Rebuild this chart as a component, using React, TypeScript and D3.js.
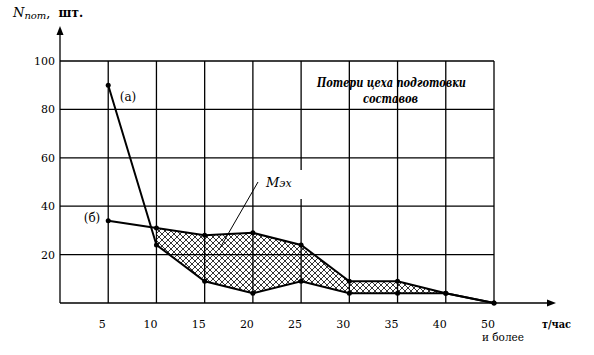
import React from "react";
import * as d3 from "d3";

const categories = ["5", "10", "15", "20", "25", "30", "35", "40", "50"];
const seriesA = [90, 24, 9, 4, 9, 4, 4, 4, 0];
const seriesB = [34, 31, 28, 29, 24, 9, 9, 4, 0];
const yTicks = [20, 40, 60, 80, 100];
const hatchFrom = 1;
const hatchTo = 7;

const font = "'DejaVu Serif', serif";

export default function App() {
  const W = 594, H = 355;
  const x = d3.scaleLinear().domain([0, categories.length]).range([60, 494]);
  const y = d3.scaleLinear().domain([0, 100]).range([303, 61]);
  const xi = (i: number) => x(i + 1);

  const line = d3.line<number>().x((_, i) => xi(i)).y((d) => y(d));

  const idx = d3.range(hatchFrom, hatchTo + 1);
  const area = d3
    .area<number>()
    .x((i) => xi(i))
    .y0((i) => y(seriesA[i]))
    .y1((i) => y(seriesB[i]));

  const ts = { fontFamily: font } as React.CSSProperties;

  return (
    <svg width={W} height={H} style={{ position: "absolute", left: 0, top: 0, fontFamily: font }}>
      <defs>
        <pattern id="hatch" patternUnits="userSpaceOnUse" width={6} height={6}>
          <path d="M0,0 L6,6 M-1,5 L1,7 M5,-1 L7,1 M0,6 L6,0 M-1,1 L1,-1 M5,7 L7,5" stroke="#000" strokeWidth={0.8} />
        </pattern>
      </defs>
      <rect x={0} y={0} width={W} height={H} fill="#fff" />
      {yTicks.map((t) => (
        <line key={"h" + t} x1={60} x2={494} y1={y(t)} y2={y(t)} stroke="#000" strokeWidth={1.3} />
      ))}
      {categories.map((c, i) => (
        <line key={"v" + c} x1={xi(i)} x2={xi(i)} y1={y(100)} y2={y(0)} stroke="#000" strokeWidth={1.3} />
      ))}
      <path d={area(idx) || ""} fill="url(#hatch)" stroke="none" />
      <rect x={263} y={170} width={42} height={29} fill="#fff" />
      <line x1={258} y1={182} x2={220} y2={248} stroke="#000" strokeWidth={1} />
      <text x={266} y={187} fontStyle="italic" fontSize={13} style={ts}>
        M<tspan fontSize={11}>эх</tspan>
      </text>
      <line x1={60} x2={60} y1={303} y2={32} stroke="#000" strokeWidth={1.3} />
      <path d="M60,26 L56.5,35 L63.5,35 Z" fill="#000" />
      <line x1={60} x2={550} y1={303} y2={303} stroke="#000" strokeWidth={1.3} />
      <path d="M556,303 L547,299.5 L547,306.5 Z" fill="#000" />
      <path d={line(seriesA) || ""} fill="none" stroke="#000" strokeWidth={2} />
      <path d={line(seriesB) || ""} fill="none" stroke="#000" strokeWidth={2} />
      {seriesA.map((v, i) => (
        <circle key={"a" + i} cx={xi(i)} cy={y(v)} r={2.5} fill="#000" />
      ))}
      {seriesB.map((v, i) => (
        <circle key={"b" + i} cx={xi(i)} cy={y(v)} r={2.5} fill="#000" />
      ))}
      {yTicks.map((t) => (
        <text key={"yl" + t} x={55} y={y(t) + 4} textAnchor="end" fontSize={11} style={ts}>
          {t}
        </text>
      ))}
      {categories.map((c, i) => (
        <text key={"xl" + c} x={xi(i) - 6} y={328} textAnchor="middle" fontSize={11} style={ts}>
          {c}
        </text>
      ))}
      <text x={482} y={341} fontSize={11} style={ts} textLength={42} lengthAdjust="spacingAndGlyphs">и более</text>
      <text x={542} y={328} fontSize={11} fontWeight="bold" style={ts} textLength={29} lengthAdjust="spacingAndGlyphs">т/час</text>
      <text x={13} y={17} fontSize={13} style={ts}>
        <tspan fontStyle="italic">N</tspan>
        <tspan fontStyle="italic" fontSize={10} dy={2}>пот</tspan>
        <tspan dy={-2}>, </tspan>
        <tspan fontWeight="bold" fontSize={12} dx={4}>шт.</tspan>
      </text>
      <text x={128} y={101} textAnchor="middle" fontSize={12} style={ts}>(а)</text>
      <text x={92} y={222} textAnchor="middle" fontSize={12} style={ts}>(б)</text>
      <text x={317} y={87} fontSize={12} fontWeight="bold" fontStyle="italic" style={ts} textLength={149} lengthAdjust="spacingAndGlyphs">
        Потери цеха подготовки
      </text>
      <text x={363} y={103} fontSize={12} fontWeight="bold" fontStyle="italic" style={ts} textLength={55} lengthAdjust="spacingAndGlyphs">
        составов
      </text>
    </svg>
  );
}
